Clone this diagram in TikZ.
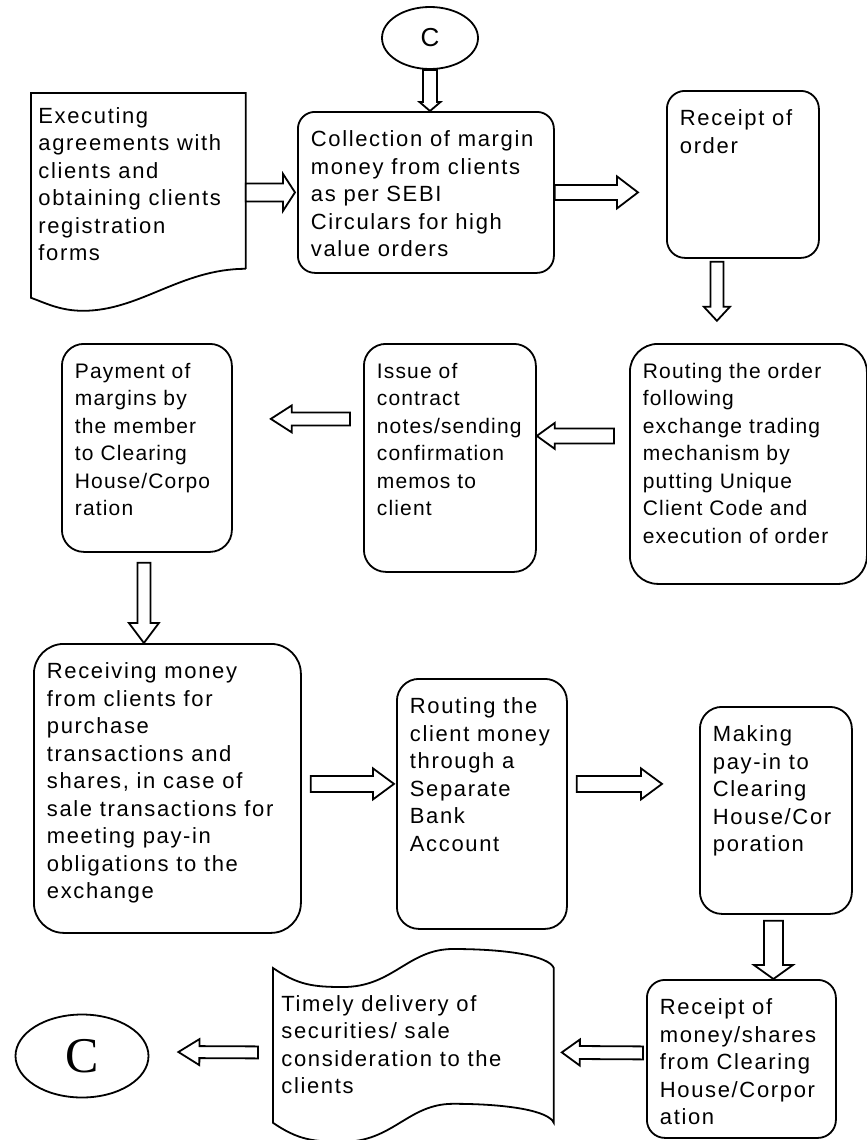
\documentclass[tikz,border=0pt]{standalone}
\usepackage{fontspec}
\setmainfont{Liberation Sans}[LetterSpace=7.5]
\newfontfamily\tightfont{Liberation Sans}[LetterSpace=5.5]
\newfontfamily\timesfont{Liberation Serif}
\usetikzlibrary{calc, shapes.geometric}
\tikzset{
  flowbox/.style={
    draw, line width=0.9pt,
    rounded corners=#1,
    anchor=north west,
    inner xsep=6.5pt, inner ysep=9.5pt,
    font=\fontsize{11}{13.75}\selectfont
  },
  flowbox/.default=9pt,
  tighttext/.style={font=\tightfont\fontsize{10.5}{13.75}\selectfont},
  doctext/.style={
    anchor=north west,
    inner xsep=#1, inner ysep=7pt,
    font=\fontsize{11}{13.75}\selectfont
  },
  docline/.style={draw, line width=0.9pt},
  connector/.style={
    draw, ellipse, line width=0.9pt,
    inner sep=0pt
  },
  fat/.style={draw, line width=0.9pt, fill=white, line join=miter}
}
% parbox with fixed size, text at the top
\newcommand{\topbox}[3]{\parbox[t][#2][t]{#1}{#3}}
% hollow block arrow: from, to, shaft half width, head half width, head length
\newcommand{\fatarrow}[5]{%
  \coordinate (fa) at (#1);
  \coordinate (fb) at (#2);
  \coordinate (fh) at ($(fb)!#5!(fa)$);
  \draw[fat] ($(fa)!#3!90:(fb)$) -- ($(fh)!#3!90:(fb)$) -- ($(fh)!#4!90:(fb)$)
    -- (fb) -- ($(fh)!#4!-90:(fb)$) -- ($(fh)!#3!-90:(fb)$) -- ($(fa)!#3!-90:(fb)$) -- cycle;
}

\begin{document}
\begin{tikzpicture}[x=0.5pt, y=-0.5pt]
  \useasboundingbox (0,0) rectangle (867,1140);

  \node[connector, minimum width=48pt, minimum height=31pt,
    font=\fontsize{13}{15}\selectfont] (ctop) at (430,38) {C};
  \node[doctext=3.5pt] (agree) at (31,93)
    {\topbox{100pt}{73.5pt}{Executing\\agreements with\\clients and\\obtaining clients\\registration\\forms}};
  \node[flowbox=8.5pt] (collect) at (297,111)
    {\topbox{115pt}{61.5pt}{Collection of margin\\money from clients\\as per SEBI\\Circulars for high\\value orders}};
  \node[flowbox] (order) at (666,90)
    {\topbox{63pt}{64.5pt}{Receipt of\\order}};

  \node[flowbox=14pt, tighttext] (routeord) at (629,343)
    {\topbox{105.5pt}{101pt}{Routing the order\\following\\exchange trading\\mechanism by\\putting Unique\\Client Code and\\execution of order}};
  \node[flowbox=11pt, tighttext] (issue) at (363,343)
    {\topbox{73pt}{95pt}{Issue of\\contract\\notes/sending\\confirmation\\memos to\\client}};
  \node[flowbox=11pt, tighttext] (payment) at (61,343)
    {\topbox{72pt}{85pt}{Payment of\\margins by\\the member\\to Clearing\\House/Corpo\\ration}};

  \node[flowbox=15pt] (receive) at (33,643)
    {\topbox{120.5pt}{125.5pt}{Receiving money\\from clients for\\purchase\\transactions and\\shares, in case of\\sale transactions for\\meeting pay-in\\obligations to the\\exchange}};
  \node[flowbox=11pt] (routecli) at (396,678)
    {\topbox{72pt}{106pt}{Routing the\\client money\\through a\\Separate\\Bank\\Account}};
  \node[flowbox=11pt] (payin) at (699,706)
    {\topbox{63pt}{84.5pt}{Making\\pay-in to\\Clearing\\House/Cor\\poration}};

  \node[flowbox] (receiptm) at (646,979)
    {\topbox{81.5pt}{60pt}{Receipt of\\money/shares\\from Clearing\\House/Corpor\\ation}};
  \node[doctext=4pt, inner ysep=13.5pt] (deliver) at (273,968)
    {\topbox{132pt}{50pt}{Timely delivery of\\securities/ sale\\consideration to the\\clients}};
  \node[connector, minimum width=66.5pt, minimum height=41.5pt,
    font=\timesfont\fontsize{25}{28}\selectfont] (cend) at (82,1056) {C};

  \draw[docline] (agree.south east) -- (agree.north east) -- (agree.north west)
    -- ($(agree.south west)+(0,29)$)
    .. controls +(14,5) and +(-23,0) .. ($(agree.south west)+(52,42)$)
    .. controls +(57,0) and +(-65,0) .. (agree.south east);
  \draw[docline] (deliver.north west)
    .. controls +(25,17) and +(-30,0) .. ($(deliver.north west)+(70,19)$)
    .. controls +(50,0) and +(-45,0) .. ($(deliver.north west)+(180,-19)$)
    .. controls +(55,0) and +(-5,-12) .. (deliver.north east)
    -- (deliver.south east)
    .. controls +(-5,-12) and +(55,0) .. ($(deliver.south west)+(180,-19)$)
    .. controls +(-45,0) and +(50,0) .. ($(deliver.south west)+(70,19)$)
    .. controls +(-30,0) and +(25,17) .. (deliver.south west) -- cycle;

  \fatarrow{ctop.south}{ctop.south |- collect.north}{3.5pt}{5.25pt}{4.5pt}
  \fatarrow{agree.east |- collect.west}{$(collect.west)+(-2,0)$}{4.5pt}{9.25pt}{6pt}
  \fatarrow{collect.east}{$(order.west |- collect.east)+(-28,0)$}{3.75pt}{8pt}{10.5pt}
  \fatarrow{$(order.south)+(-26,3)$}{$(order.south)+(-26,62)$}{3.25pt}{6.5pt}{7pt}
  \fatarrow{$(routeord.west)+(-15,-28)$}{$(issue.east)+(0,-22)$}{3.75pt}{6.5pt}{9pt}
  \fatarrow{$(issue.west)+(-13,-39)$}{$(payment.east)+(38,-29)$}{3.25pt}{6.75pt}{10.5pt}
  \fatarrow{$(payment.south)+(-3,10)$}{$(receive.north -| payment.south)+(-3,0)$}{3.25pt}{7.5pt}{10pt}
  \fatarrow{$(receive.east)+(9,-4.5)$}{$(routecli.west)+(-2,-20)$}{4pt}{7.75pt}{10.5pt}
  \fatarrow{$(routecli.east)+(9,-20)$}{$(payin.west)+(-37,-26.5)$}{4pt}{7.75pt}{10.5pt}
  \fatarrow{$(payin.south)+(-2.5,6)$}{$(receiptm.north -| payin.south)+(-2.5,0)$}{4.75pt}{9.75pt}{7pt}
  \fatarrow{$(receiptm.west)+(-3,-6)$}{$(deliver.east)+(8,7)$}{3.25pt}{6.5pt}{9pt}
  \fatarrow{$(deliver.west)+(-15,7)$}{$(cend.east)+(29,-4)$}{3pt}{6.5pt}{10.5pt}
\end{tikzpicture}
\end{document}
